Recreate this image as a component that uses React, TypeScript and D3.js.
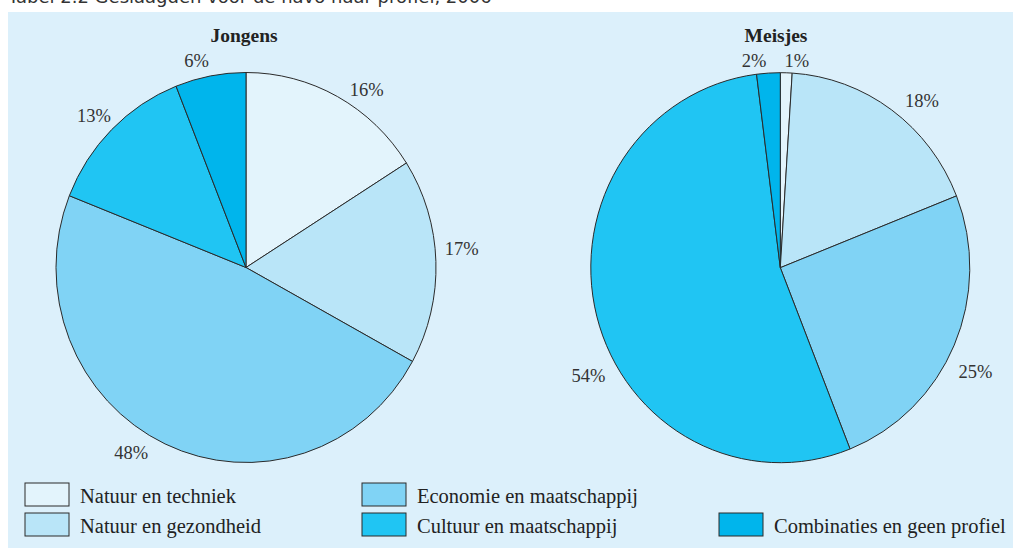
import React from "react";
import * as d3 from "d3";

const categories = [
  "Natuur en techniek",
  "Natuur en gezondheid",
  "Economie en maatschappij",
  "Cultuur en maatschappij",
  "Combinaties en geen profiel",
];
const jongensValues = [16, 17, 48, 13, 6];
const meisjesValues = [1, 18, 25, 54, 2];
const chartTitles = ["Jongens", "Meisjes"];

const colors = ["#e3f4fc", "#b9e5f8", "#80d3f5", "#20c5f3", "#00b5ec"];

// layout-only nudges for percentage labels
const jongensNudge: [number, number][] = [[19, 12], [5, -12], [-25, -10], [-3, 2], [-10, 6]];
const meisjesNudge: [number, number][] = [[10, 10], [18, 8], [2, 18], [12, 54], [-13, 9]];

const W = 1013;
const H = 548;
const FONT = "'Liberation Serif', 'DejaVu Serif', serif";

type PieProps = {
  cx: number;
  cy: number;
  rx: number;
  ry: number;
  values: number[];
  nudges: [number, number][];
  title: string;
  titleX: number;
};

function Pie({ cx, cy, rx, ry, values, nudges, title, titleX }: PieProps) {
  const pie = d3.pie<number>().sort(null).value((d) => d);
  const arcs = pie(values);
  const arc = d3.arc<d3.PieArcDatum<number>>().innerRadius(0).outerRadius(rx);
  const k = 1.11;
  return (
    <g>
      <text x={titleX} y={35} textAnchor="middle" dominantBaseline="central" fontFamily={FONT} fontWeight="bold" fontSize={19.5} fill="#222">
        {title}
      </text>
      <g transform={`translate(${cx},${cy}) scale(1,${ry / rx})`}>
        {arcs.map((a, i) => (
          <path key={i} d={arc(a) || ""} fill={colors[i]} stroke="#2a2a2a" strokeWidth={1} vectorEffect="non-scaling-stroke" />
        ))}
      </g>
      {arcs.map((a, i) => {
        const mid = (a.startAngle + a.endAngle) / 2;
        const x = cx + Math.sin(mid) * rx * k + nudges[i][0];
        const y = cy - Math.cos(mid) * ry * k + nudges[i][1];
        return (
          <text key={i} x={x} y={y} textAnchor="middle" dominantBaseline="central" fontFamily={FONT} fontSize={18.5} fill="#333">
            {`${values[i]}%`}
          </text>
        );
      })}
    </g>
  );
}

const legendPos: [number, number][] = [
  [25, 483],
  [25, 513],
  [362, 483],
  [362, 513],
  [719, 513],
];

export default function App() {
  return (
    <svg width={W} height={H} style={{ position: "absolute", left: 0, top: 0 }}>
      <text x={8} y={3} fontFamily="'DejaVu Sans', sans-serif" fontSize={18} fill="#333">
        Tabel 2.2 Geslaagden voor de havo naar profiel, 2006
      </text>
      <rect x={8} y={12} width={W - 8} height={H - 12} fill="#dcf0fb" />
      <Pie cx={246} cy={267.5} rx={190} ry={195} values={jongensValues} nudges={jongensNudge} title={chartTitles[0]} titleX={244} />
      <Pie cx={780.3} cy={267.7} rx={189.5} ry={195} values={meisjesValues} nudges={meisjesNudge} title={chartTitles[1]} titleX={776} />
      {categories.map((c, i) => (
        <g key={c} transform={`translate(${legendPos[i][0]},${legendPos[i][1]})`}>
          <rect x={0} y={0} width={44} height={23} fill={colors[i]} stroke="#2a2a2a" strokeWidth={1} />
          <text x={55} y={20} fontFamily={FONT} fontSize={20.5} fill="#222">
            {c}
          </text>
        </g>
      ))}
    </svg>
  );
}
